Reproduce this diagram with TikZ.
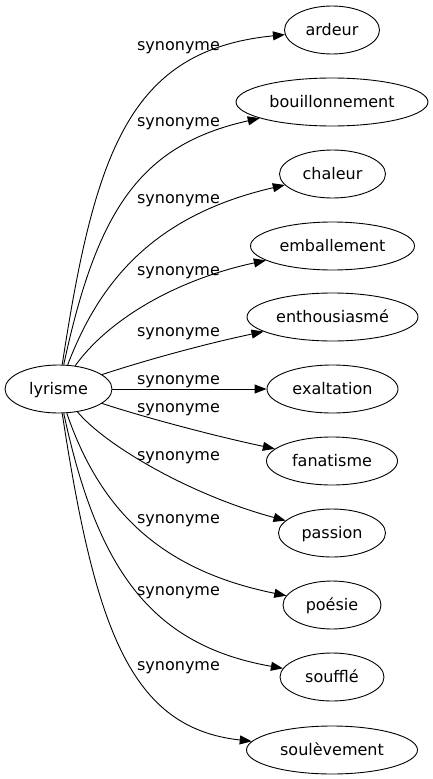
\documentclass[tikz,border=0pt]{standalone}
\usepackage{fontspec}
\setmainfont{DejaVu Sans}
\usetikzlibrary{shapes.geometric,arrows.meta}
\begin{document}
\begin{tikzpicture}[x=1pt,y=-1pt,
  every node/.style={font=\fontsize{16}{19}\selectfont},
  word/.style={draw, ellipse, line width=0.9pt, inner sep=0pt, minimum height=48pt, text height=11.5pt, text depth=0pt},
  lab/.style={anchor=base, inner sep=0pt},
  syn/.style={-{Triangle[length=12pt,width=9pt]}, line width=0.9pt}]
\useasboundingbox (0,0) rectangle (433,779);
% nodes
\node[word, minimum width=107pt] (lyr) at (58.5,389) {lyrisme};
\node[word, minimum width=95pt]  (ardeur) at (332,30) {ardeur};
\node[word, minimum width=192pt] (bouill) at (332,102) {bouillonnement};
\node[word, minimum width=106pt] (chaleur) at (332.5,174) {chaleur};
\node[word, minimum width=164pt] (emball) at (332.5,246) {emballement};
\node[word, minimum width=171pt] (enthous) at (332.5,317) {enthousiasmé};
\node[word, minimum width=131pt] (exalt) at (332.5,389) {exaltation};
\node[word, minimum width=131pt] (fanat) at (332,461) {fanatisme};
\node[word, minimum width=107pt] (passion) at (332,533) {passion};
\node[word, minimum width=98pt]  (poesie) at (332,605) {poésie};
\node[word, minimum width=104pt] (souffle) at (332,677) {soufflé};
\node[word, minimum width=171pt] (soulev) at (332,750) {soulèvement};
% edges
\draw[syn] (lyr) .. controls (95,150) and (130,50) .. (ardeur);
\draw[syn] (lyr) .. controls (97,210) and (140,145) .. (bouill);
\draw[syn] (lyr) .. controls (100,280) and (155,215) .. (chaleur);
\draw[syn] (lyr) .. controls (108,320) and (175,280) .. (emball);
\draw[syn] (lyr) .. controls (140,362) and (200,345) .. (enthous);
\draw[syn] (lyr) -- (exalt);
\draw[syn] (lyr) .. controls (140,416) and (210,435) .. (fanat);
\draw[syn] (lyr) .. controls (105,445) and (190,495) .. (passion);
\draw[syn] (lyr) .. controls (100,510) and (160,570) .. (poesie);
\draw[syn] (lyr) .. controls (97,568) and (150,645) .. (souffle);
\draw[syn] (lyr) .. controls (95,628) and (130,728) .. (soulev);
% labels
\node[lab] (l1) at (178.5,50.7) {synonyme};
\node[lab] (l2) at (178.5,126.7) {synonyme};
\node[lab] (l3) at (178.5,203.3) {synonyme};
\node[lab] (l4) at (178.5,275) {synonyme};
\node[lab] (l5) at (178.5,336.7) {synonyme};
\node[lab] (l6) at (178.5,384) {synonyme};
\node[lab] (l7) at (178.5,412.3) {synonyme};
\node[lab] (l8) at (178.5,460) {synonyme};
\node[lab] (l9) at (178.5,523.3) {synonyme};
\node[lab] (l10) at (178.5,595) {synonyme};
\node[lab] (l11) at (178.5,670) {synonyme};
\end{tikzpicture}
\end{document}
